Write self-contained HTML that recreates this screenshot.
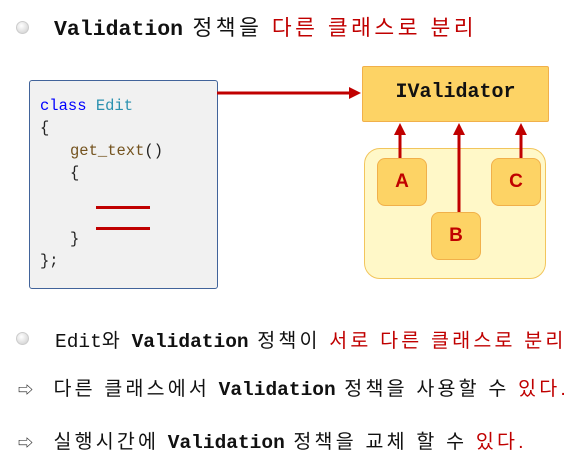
<!DOCTYPE html>
<html><head><meta charset="utf-8"><style>
body{margin:0;width:576px;height:466px;background:#fff;position:relative;overflow:hidden;font-family:"Liberation Sans","Noto Sans CJK KR",sans-serif;}
.a{position:absolute;white-space:nowrap;}
.m{font-family:"Liberation Mono","Noto Sans CJK KR",monospace;font-weight:bold;letter-spacing:0;}
.r{color:#c00000;}
.dot{position:absolute;width:11px;height:11px;border-radius:50%;background:radial-gradient(circle at 40% 35%,#fff,#ccc);border:1px solid #ccc;}
.code{font-family:"Liberation Mono",monospace;font-size:15.5px;position:absolute;}
</style></head><body>
<div class="dot" style="left:16px;top:21px"></div>
<div class="a" style="left:54px;top:11px;font-size:21.5px;color:#111;letter-spacing:3.5px"><span class="m">Validation</span> 정책을 <span class="r">다른 클래스로 분리</span></div>

<div style="position:absolute;left:29px;top:80px;width:187px;height:207px;background:#f1f1f1;border:1.5px solid #41639a;border-radius:3px"></div>
<div class="code" style="left:40px;top:97px;color:#0000ff">class <span style="color:#2b91af">Edit</span></div>
<div class="code" style="left:40px;top:119px;color:#222">{</div>
<div class="code" style="left:70px;top:142px;color:#74531f">get_text<span style="color:#222">()</span></div>
<div class="code" style="left:70px;top:164px;color:#222">{</div>
<div style="position:absolute;left:96px;top:206px;width:54px;height:3px;background:#c00000"></div>
<div style="position:absolute;left:96px;top:227px;width:54px;height:3px;background:#c00000"></div>
<div class="code" style="left:70px;top:230px;color:#222">}</div>
<div class="code" style="left:40px;top:252px;color:#222">};</div>

<div style="position:absolute;left:364px;top:148px;width:180px;height:129px;background:#fff8c8;border:1px solid #f2c55c;border-radius:16px"></div>
<div style="position:absolute;left:362px;top:66px;width:185px;height:54px;background:#fdd365;border:1px solid #f1b04a;border-radius:2px"></div>
<div class="a m" style="left:362px;width:187px;text-align:center;top:81px;font-size:20px;color:#111">IValidator</div>
<div style="position:absolute;left:377px;top:158px;width:48px;height:46px;background:#fdd365;border:1px solid #f1b04a;border-radius:8px;text-align:center;line-height:46px;font-weight:bold;font-size:19px;color:#c00000">A</div>
<div style="position:absolute;left:491px;top:158px;width:48px;height:46px;background:#fdd365;border:1px solid #f1b04a;border-radius:8px;text-align:center;line-height:46px;font-weight:bold;font-size:19px;color:#c00000">C</div>
<div style="position:absolute;left:431px;top:212px;width:48px;height:46px;background:#fdd365;border:1px solid #f1b04a;border-radius:8px;text-align:center;line-height:46px;font-weight:bold;font-size:19px;color:#c00000">B</div>

<svg width="576" height="466" style="position:absolute;left:0;top:0">
<g stroke="#c00000" stroke-width="3" fill="#c00000">
<line x1="217" y1="93" x2="350" y2="93"/><polygon points="361,93 349,87 349,99" stroke="none"/>
<line x1="400" y1="158" x2="400" y2="134"/><polygon points="400,123 394,135 406,135" stroke="none"/>
<line x1="459" y1="212" x2="459" y2="134"/><polygon points="459,123 453,135 465,135" stroke="none"/>
<line x1="521" y1="158" x2="521" y2="134"/><polygon points="521,123 515,135 527,135" stroke="none"/>
</g></svg>

<div class="dot" style="left:16px;top:332px"></div>
<div class="a" style="left:55px;top:324px;font-size:19.5px;color:#111;letter-spacing:3.2px"><span style="font-family:'Liberation Mono',monospace;letter-spacing:0">Edit</span>와 <span class="m">Validation</span> 정책이 <span class="r">서로 다른 클래스로 분리</span></div>
<div class="a" style="left:18px;top:372px;font-size:19.5px;color:#111;letter-spacing:3.2px"><span style="font-size:15px">⇨</span>&nbsp; 다른 클래스에서 <span class="m">Validation</span> 정책을 사용할 수 <span class="r">있다.</span></div>
<div class="a" style="left:18px;top:425px;font-size:19.5px;color:#111;letter-spacing:3.2px"><span style="font-size:15px">⇨</span>&nbsp; 실행시간에 <span class="m">Validation</span> 정책을 교체 할 수 <span class="r">있다.</span></div>
</body></html>
